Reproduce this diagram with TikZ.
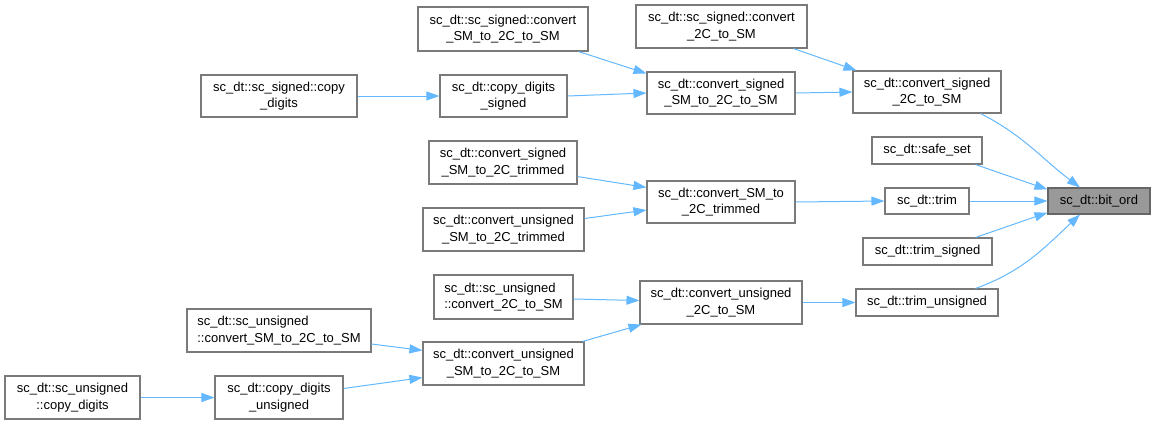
\documentclass[tikz,border=0pt]{standalone}
\usepackage{fontspec}
\setmainfont{Liberation Sans}
\usetikzlibrary{arrows.meta}
\definecolor{edgeblue}{HTML}{63B8FF}
\definecolor{boxgray}{HTML}{7A7A7A}
\definecolor{rootfill}{HTML}{999999}
\definecolor{rootline}{HTML}{666666}
\tikzset{
  fn/.style={draw=boxgray, line width=1.1pt, fill=white, inner sep=0pt, align=center,
    font=\fontsize{13}{16.5}\selectfont},
  fnleft/.style={fn, align=left},
  rootfn/.style={fn, fill=rootfill, draw=rootline},
  call/.style={draw=edgeblue, line width=1pt, -{Triangle[length=13pt,width=9pt]}},
}
\begin{document}
\begin{tikzpicture}
\useasboundingbox (0pt,0pt) rectangle (1155pt,-424pt);
% column 5
\node[rootfn, minimum width=102pt, minimum height=26pt] (bitord) at (1099pt,-201pt) {sc\_dt::bit\_ord};
% column 4
\node[fn, minimum width=148pt, minimum height=42pt] (D1) at (927pt,-92pt) {sc\_dt::convert\_signed\\\_2C\_to\_SM};
\node[fn, minimum width=110pt, minimum height=27pt] (safeset) at (927pt,-150.5pt) {sc\_dt::safe\_set};
\node[fn, minimum width=84pt, minimum height=26pt] (trim) at (927pt,-201pt) {sc\_dt::trim};
\node[fn, minimum width=129pt, minimum height=27pt] (trimsigned) at (927.5pt,-251.5pt) {sc\_dt::trim\_signed};
\node[fn, minimum width=142pt, minimum height=27pt] (trimunsigned) at (927pt,-302.5pt) {sc\_dt::trim\_unsigned};
% column 3
\node[fn, minimum width=171pt, minimum height=43pt] (C1) at (721.5pt,-26.5pt) {sc\_dt::sc\_signed::convert\\\_2C\_to\_SM};
\node[fn, minimum width=148pt, minimum height=42pt] (B1) at (721pt,-93pt) {sc\_dt::convert\_signed\\\_SM\_to\_2C\_to\_SM};
\node[fn, minimum width=148pt, minimum height=42pt] (E1) at (721pt,-202pt) {sc\_dt::convert\_SM\_to\\\_2C\_trimmed};
\node[fn, minimum width=162pt, minimum height=43pt] (F1) at (721pt,-302.5pt) {sc\_dt::convert\_unsigned\\\_2C\_to\_SM};
% column 2
\node[fn, minimum width=170pt, minimum height=44pt] (A1) at (503pt,-29pt) {sc\_dt::sc\_signed::convert\\\_SM\_to\_2C\_to\_SM};
\node[fn, minimum width=127pt, minimum height=42pt] (A2) at (503.5pt,-96pt) {sc\_dt::copy\_digits\\\_signed};
\node[fn, minimum width=148pt, minimum height=43pt] (E2) at (503pt,-162.5pt) {sc\_dt::convert\_signed\\\_SM\_to\_2C\_trimmed};
\node[fn, minimum width=161pt, minimum height=43pt] (E3) at (503.5pt,-229.5pt) {sc\_dt::convert\_unsigned\\\_SM\_to\_2C\_trimmed};
\node[fnleft, minimum width=139pt, minimum height=44pt] (F2) at (503.5pt,-297pt) {sc\_dt::sc\_unsigned\\::convert\_2C\_to\_SM};
\node[fn, minimum width=161pt, minimum height=43pt] (G1) at (503.5pt,-363.5pt) {sc\_dt::convert\_unsigned\\\_SM\_to\_2C\_to\_SM};
% column 1
\node[fn, minimum width=156pt, minimum height=42pt] (A3) at (279pt,-96pt) {sc\_dt::sc\_signed::copy\\\_digits};
\node[fnleft, minimum width=184pt, minimum height=43pt] (G2) at (279pt,-330.5pt) {sc\_dt::sc\_unsigned\\::convert\_SM\_to\_2C\_to\_SM};
\node[fn, minimum width=128pt, minimum height=43pt] (H1) at (279pt,-397.5pt) {sc\_dt::copy\_digits\\\_unsigned};
% column 0
\node[fn, minimum width=135pt, minimum height=43pt] (H2) at (72.5pt,-397.5pt) {sc\_dt::sc\_unsigned\\::copy\_digits};
% edges
\draw[call] ([xshift=-10pt]A1.south east) -- ([yshift=-2pt]B1.north west);
\draw[call] (A2.east) -- (B1.west);
\draw[call] (A3.east) -- (A2.west);
\draw[call] ([xshift=-14pt]C1.south east) -- ([xshift=4pt]D1.north west);
\draw[call] (B1.east) -- (D1.west);
\draw[call] ([xshift=-21pt]D1.south east) to[out=-27,in=143] ([xshift=-19pt]bitord.north);
\draw[call] ([xshift=-7pt]safeset.south east) -- ([yshift=-2pt]bitord.north west);
\draw[call] (trim.east) -- (bitord.west);
\draw[call] ([xshift=-17pt]trimsigned.north east) -- ([yshift=2pt]bitord.south west);
\draw[call] ([xshift=-23pt]trimunsigned.north east) to[out=20,in=-137] ([xshift=-19pt]bitord.south);
\draw[call] (E1.east) -- (trim.west);
\draw[call] ([yshift=8pt]E2.south east) -- ([yshift=-7pt]E1.north west);
\draw[call] ([yshift=11pt]E3.east) -- ([yshift=-8pt]E1.west);
\draw[call] (F1.east) -- (trimunsigned.west);
\draw[call] ([yshift=-2pt]F2.east) -- ([yshift=2pt]F1.west);
\draw[call] ([xshift=-2pt]G1.north east) -- ([xshift=2pt]F1.south west);
\draw[call] ([yshift=-13.5pt]G2.east) -- ([yshift=-9pt]G1.north west);
\draw[call] ([yshift=9pt]H1.east) -- ([yshift=8pt]G1.south west);
\draw[call] (H2.east) -- (H1.west);
\end{tikzpicture}
\end{document}
